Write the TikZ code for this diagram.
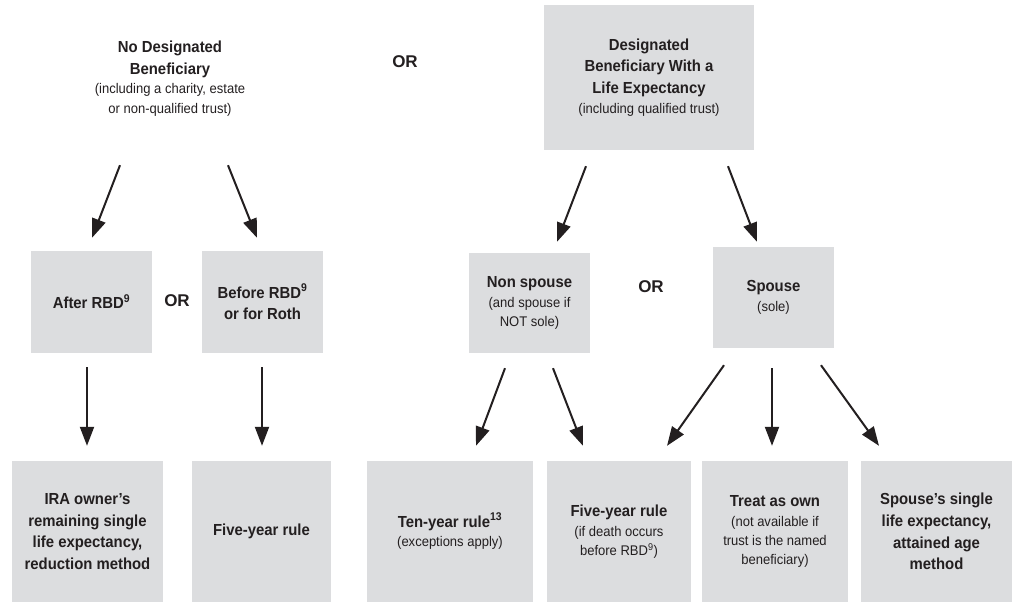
\documentclass[tikz,border=0pt]{standalone}
\usepackage{fontspec}
\setmainfont{Liberation Sans}
\newfontfamily\condfont{Liberation Sans}[FakeStretch=0.93,Ligatures=TeX]
\usetikzlibrary{arrows.meta}
\definecolor{boxgray}{HTML}{DCDDDF}
\definecolor{ink}{HTML}{231F20}
\newcommand{\ttlfont}{\condfont\fontsize{16}{21.7}\selectfont\bfseries}
\newcommand{\subfont}{\fontsize{14}{19.5}\selectfont\mdseries}
\begin{document}
\begin{tikzpicture}[x=1pt,y=-1pt,
  every node/.style={text=ink,font=\ttlfont,align=center,inner sep=0pt},
  gbox/.style={fill=boxgray,minimum height=#1},
  gbox/.default=102pt,
  orlab/.style={font=\fontsize{17}{20}\selectfont\bfseries},
  arr/.style={draw=ink,line width=2pt,-{Triangle[length=19pt,width=14pt]}}]
\useasboundingbox (0,0) rectangle (1013,602);

% top row
\node[minimum width=210pt,minimum height=145pt] (nodesig) at (170,78.5)
  {No Designated\\Beneficiary\\[-2pt]\subfont (including a charity, estate\\[-2.5pt]\subfont or non-qualified trust)};
\node[orlab] (or1) at (405,62) {OR};
\node[gbox=145pt,minimum width=210pt] (desig) at (649,77.5)
  {Designated\\Beneficiary With a\\Life Expectancy\\[-2pt]\subfont (including qualified trust)};

% middle row
\node[gbox=102pt,minimum width=121pt] (after) at (91.5,302) {After RBD\textsuperscript{9}};
\node[orlab] (or2) at (177,301) {OR};
\node[gbox=102pt,minimum width=121pt] (before) at (262.5,302) {Before RBD\textsuperscript{9}\\or for Roth};
\node[gbox=100pt,minimum width=121pt] (nonsp) at (529.5,303)
  {Non spouse\\[-2pt]\subfont (and spouse if\\[-2.5pt]\subfont NOT sole)};
\node[orlab] (or3) at (651,287) {OR};
\node[gbox=101pt,minimum width=121pt] (spouse) at (773.5,297.5) {Spouse\\[-2pt]\subfont (sole)};

% bottom row
\node[gbox=141pt,minimum width=151pt] (r1) at (87.5,531.5)
  {IRA owner’s\\remaining single\\life expectancy,\\reduction method};
\node[gbox=141pt,minimum width=139pt] (r2) at (261.5,531.5) {Five-year rule};
\node[gbox=141pt,minimum width=166pt] (r3) at (450,531.5)
  {Ten-year rule\textsuperscript{13}\\[-2pt]\subfont (exceptions apply)};
\node[gbox=141pt,minimum width=144pt] (r4) at (619,531.5)
  {Five-year rule\\[-2pt]\subfont (if death occurs\\[-2.5pt]\subfont before RBD\textsuperscript{9})};
\node[gbox=141pt,minimum width=146pt] (r5) at (775,531.5)
  {Treat as own\\[-2pt]\subfont (not available if\\[-2.5pt]\subfont trust is the named\\[-2.5pt]\subfont beneficiary)};
\node[gbox=141pt,minimum width=151pt] (r6) at (936.5,531.5)
  {Spouse’s single\\life expectancy,\\attained age\\method};

% arrows
\draw[arr] ([xshift=-50pt,yshift=-14pt]nodesig.south) -- ([xshift=0.5pt,yshift=13pt]after.north);
\draw[arr] ([xshift=58pt,yshift=-14pt]nodesig.south) -- ([xshift=-5.5pt,yshift=13pt]before.north);
\draw[arr] ([xshift=-63pt,yshift=-16pt]desig.south) -- ([xshift=27.5pt,yshift=11pt]nonsp.north);
\draw[arr] ([xshift=79pt,yshift=-16pt]desig.south) -- ([xshift=-16.5pt,yshift=5pt]spouse.north);
\draw[arr] ([xshift=-4.5pt,yshift=-14pt]after.south) -- ([xshift=-0.5pt,yshift=15pt]r1.north);
\draw[arr] ([xshift=-0.5pt,yshift=-14pt]before.south) -- ([xshift=0.5pt,yshift=15pt]r2.north);
\draw[arr] ([xshift=-24.5pt,yshift=-15pt]nonsp.south) -- ([xshift=26pt,yshift=15pt]r3.north);
\draw[arr] ([xshift=23.5pt,yshift=-15pt]nonsp.south) -- ([xshift=-36pt,yshift=15pt]r4.north);
\draw[arr] ([xshift=-49.5pt,yshift=-17pt]spouse.south) -- ([xshift=48pt,yshift=15pt]r4.north);
\draw[arr] ([xshift=-1.5pt,yshift=-20pt]spouse.south) -- ([xshift=-3pt,yshift=15pt]r5.north);
\draw[arr] ([xshift=47.5pt,yshift=-17pt]spouse.south) -- ([xshift=-57.5pt,yshift=15pt]r6.north);
\end{tikzpicture}
\end{document}
